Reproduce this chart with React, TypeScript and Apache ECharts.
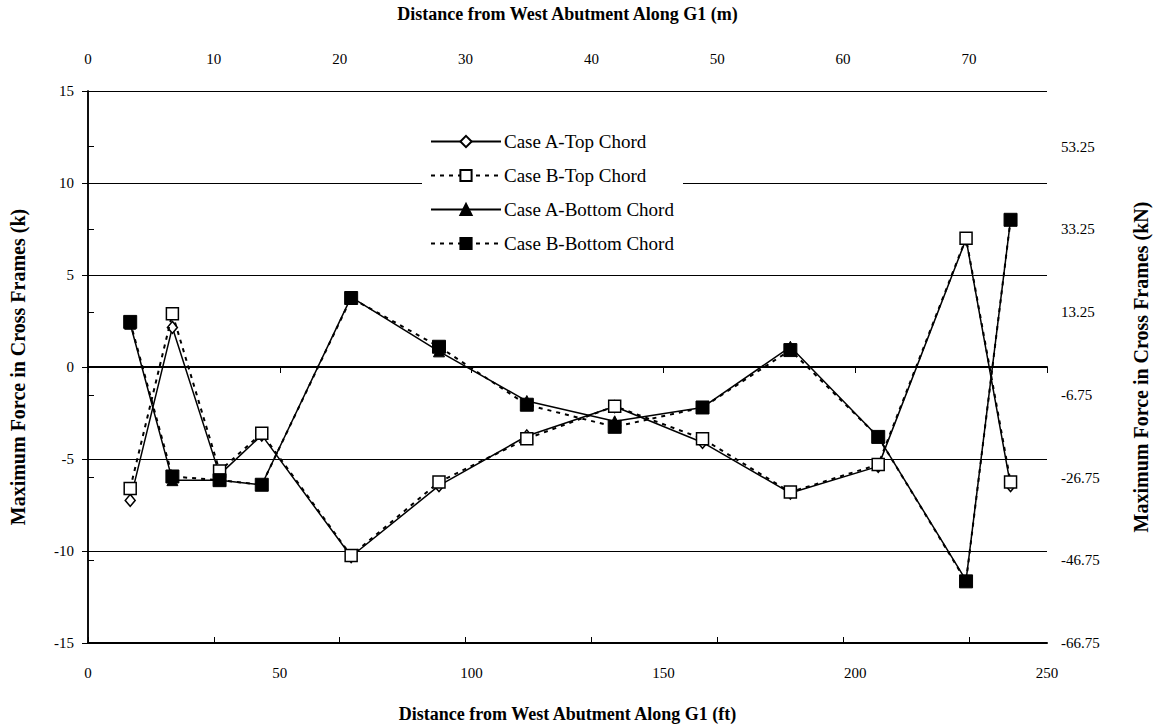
import React, { useEffect, useRef } from "react";
import * as echarts from "echarts";

const distanceFt = [11, 22, 34.3, 45.3, 68.6, 91.5, 114.4, 137.3, 160.2, 183.1, 206, 228.9, 240.5];
const caseATop = [-7.25, 2.15, -5.85, -3.7, -10.3, -6.45, -3.75, -2.15, -4.1, -6.85, -5.4, 6.95, -6.45];
const caseBTop = [-6.6, 2.9, -5.65, -3.6, -10.25, -6.25, -3.9, -2.13, -3.9, -6.8, -5.3, 7.0, -6.25];
const caseABottom = [2.35, -6.15, -6.15, -6.4, 3.8, 0.85, -1.85, -2.95, -2.2, 1.1, -3.8, -11.6, 8.0];
const caseBBottom = [2.45, -5.95, -6.15, -6.4, 3.75, 1.1, -2.05, -3.25, -2.2, 0.92, -3.8, -11.65, 8.0];

const seriesNames = ["Case A-Top Chord", "Case B-Top Chord", "Case A-Bottom Chord", "Case B-Bottom Chord"];

const KN_PER_KIP = 4.448;
const FT_PER_M = 3.28084;
const FONT = "'Liberation Serif', 'Times New Roman', serif";

export default function App() {
  const ref = useRef<HTMLDivElement>(null);
  useEffect(() => {
    if (!ref.current) return;
    const chart = echarts.init(ref.current, null, { renderer: "svg" });
    const pairs = (ys: number[]) => distanceFt.map((x, i) => [x, ys[i]]);
    const nameStyle = { fontFamily: FONT, fontWeight: "bold" as const, fontSize: 18, color: "#000" };
    const yNameStyle = { ...nameStyle, fontSize: 20 };
    const labelStyle = { fontFamily: FONT, fontSize: 15, color: "#000" };
    const axisLine = { show: true, lineStyle: { color: "#000", width: 1.5 } };
    const axisTick = { show: true, inside: false, length: 6, lineStyle: { color: "#000", width: 1 } };
    chart.setOption({
      animation: false,
      backgroundColor: "#fff",
      textStyle: { fontFamily: FONT },
      grid: { left: 84, right: 106, top: 88, bottom: 82, containLabel: false },
      legend: {
        orient: "vertical",
        left: 422,
        top: 124,
        padding: [8, 8, 8, 8],
        backgroundColor: "#fff",
        itemWidth: 70,
        itemHeight: 14,
        itemGap: 15,
        textStyle: { fontFamily: FONT, fontSize: 19, color: "#000", padding: [0, 0, 0, -2] },
        data: seriesNames,
        z: 10,
      },
      xAxis: [
        {
          type: "value",
          position: "bottom",
          min: 0,
          max: 250,
          interval: 50,
          name: "Distance from West Abutment Along G1 (ft)",
          nameLocation: "middle",
          nameGap: 62,
          nameTextStyle: nameStyle,
          axisLine: { show: true, lineStyle: { color: "#000", width: 2 } },
          axisTick,
          axisLabel: { ...labelStyle, margin: 22 },
          splitLine: { show: false },
        },
        {
          type: "value",
          position: "top",
          min: 0,
          max: 250 / FT_PER_M,
          interval: 10,
          name: "Distance from West Abutment Along G1 (m)",
          nameLocation: "middle",
          nameGap: 68,
          nameTextStyle: nameStyle,
          axisLine: { show: true, lineStyle: { color: "#000", width: 2 } },
          axisTick,
          axisLabel: { ...labelStyle, margin: 25, showMaxLabel: false },
          splitLine: { show: false },
        },
      ],
      yAxis: [
        {
          type: "value",
          position: "left",
          min: -15,
          max: 15,
          interval: 5,
          name: "Maximum Force in Cross Frames (k)",
          nameLocation: "middle",
          nameGap: 60,
          nameTextStyle: yNameStyle,
          axisLine,
          axisTick,
          axisLabel: { ...labelStyle, margin: 14 },
          splitLine: { show: true, lineStyle: { color: "#000", width: 1 } },
        },
        {
          type: "value",
          position: "right",
          min: 0,
          max: 30 * KN_PER_KIP,
          interval: 20,
          name: "Maximum Force in Cross Frames (kN)",
          nameLocation: "middle",
          nameGap: 84,
          nameRotate: 90,
          nameTextStyle: yNameStyle,
          axisLine,
          axisTick,
          axisLabel: {
            ...labelStyle,
            margin: 14,
            showMaxLabel: false,
            formatter: (v: number) => (v - 66.75).toFixed(2),
          },
          splitLine: { show: false },
        },
      ],
      series: [
        {
          name: seriesNames[0],
          type: "line",
          data: pairs(caseATop),
          symbol: "diamond",
          symbolSize: [10, 12],
          itemStyle: { color: "#fff", borderColor: "#000", borderWidth: 1.5 },
          lineStyle: { color: "#000", width: 1.5, type: "solid" },
          z: 2,
        },
        {
          name: seriesNames[1],
          type: "line",
          data: pairs(caseBTop),
          symbol: "rect",
          symbolSize: 12,
          itemStyle: { color: "#fff", borderColor: "#000", borderWidth: 1.5 },
          lineStyle: { color: "#000", width: 2, type: [4, 5] },
          z: 3,
        },
        {
          name: seriesNames[2],
          type: "line",
          data: pairs(caseABottom),
          symbol: "triangle",
          symbolSize: 11,
          itemStyle: { color: "#000", borderColor: "#000", borderWidth: 1 },
          lineStyle: { color: "#000", width: 1.5, type: "solid" },
          z: 4,
        },
        {
          name: seriesNames[3],
          type: "line",
          data: pairs(caseBBottom),
          symbol: "rect",
          symbolSize: 13,
          itemStyle: { color: "#000", borderColor: "#000", borderWidth: 1 },
          lineStyle: { color: "#000", width: 2, type: [4, 5] },
          z: 5,
        },
      ],
    });
    return () => chart.dispose();
  }, []);
  return (
    <div
      ref={ref}
      style={{ position: "fixed", left: 0, top: 0, width: 1159, height: 728, background: "#fff" }}
    />
  );
}
